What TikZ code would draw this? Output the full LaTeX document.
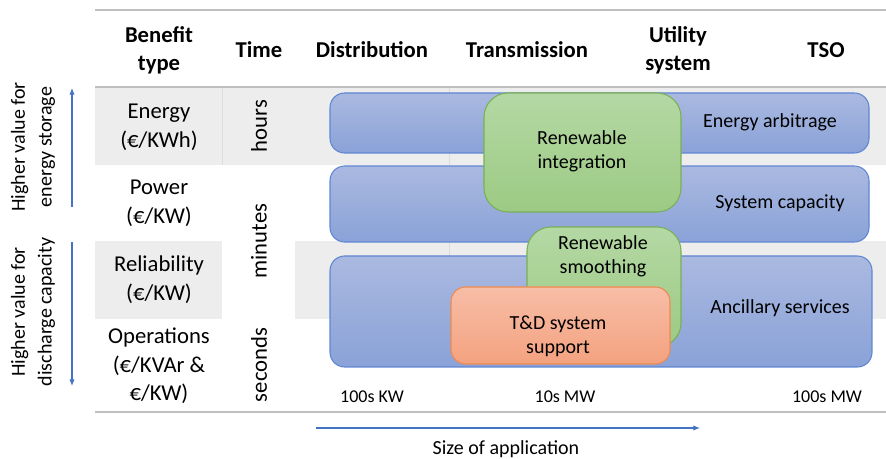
\documentclass[tikz,border=0pt]{standalone}
\usepackage{fontspec}
\setmainfont{Carlito}
\usetikzlibrary{arrows.meta}

\definecolor{bandgray}{HTML}{EDEDED}
\definecolor{rulegray}{HTML}{BFBFBF}
\definecolor{sepgray}{HTML}{DCDCDC}
\definecolor{bluetop}{HTML}{AAB9E0}
\definecolor{bluebot}{HTML}{8AA2D8}
\definecolor{blueedge}{HTML}{5F86D2}
\definecolor{greentop}{HTML}{B4D8A4}
\definecolor{greenbot}{HTML}{9CCA83}
\definecolor{greenedge}{HTML}{78B055}
\definecolor{orangetop}{HTML}{F7BDA7}
\definecolor{orangebot}{HTML}{F4A27F}
\definecolor{orangeedge}{HTML}{EE8A4F}
\definecolor{arrowblue}{HTML}{4472C4}

\begin{document}
\begin{tikzpicture}[
    x = 0.75pt,
    y = -0.75pt,
    >={Latex[length=5pt,width=4pt]},
    rule/.style = {draw=rulegray, line width=1.1pt},
    sep/.style = {draw=sepgray, line width=0.6pt},
    bluebox/.style = {draw=blueedge, line width=0.8pt, rounded corners=11pt,
              top color=bluetop, bottom color=bluebot},
    greenbox/.style = {draw=greenedge, line width=0.8pt, rounded corners=18pt,
              top color=greentop, bottom color=greenbot},
    orangebox/.style = {draw=orangeedge, line width=0.8pt, rounded corners=11pt,
              top color=orangetop, bottom color=orangebot},
    head/.style = {align=center, font=\bfseries\fontsize{17}{21}\selectfont},
    rowlabel/.style = {align=center, font=\fontsize{17}{21.5}\selectfont},
    timelabel/.style = {rotate=90, font=\fontsize{17}{21}\selectfont},
    boxtext/.style = {align=center, font=\fontsize{15}{18}\selectfont},
    sizelabel/.style = {font=\fontsize{13.5}{16}\selectfont},
    sidelabel/.style = {rotate=90, align=center, font=\fontsize{15}{20}\selectfont},
    ]

\useasboundingbox (0,0) rectangle (886,459);

% grey bands and table rules
\fill[bandgray] (95,87) rectangle (886,165);
\fill[bandgray] (95,241) rectangle (222,319);
\fill[bandgray] (295,241) rectangle (886,319);
\draw[sep] (222,87) -- (222,165);
\draw[sep] (449,87) -- (449,165);
\draw[sep] (449,241) -- (449,319);
\draw[rule] (95,10) -- (886,10);
\draw[rule] (95,87) -- (886,87);
\draw[rule] (95,412) -- (886,412);

% column headers
\node[head] (h_benefit) at (159,50) {Benefit\\type};
\node[head] (h_time) at (259,50) {Time};
\node[head] (h_dist) at (372,50) {Distribution};
\node[head] (h_trans) at (527,50) {Transmission};
\node[head] (h_util) at (678,50) {Utility\\system};
\node[head] (h_tso) at (826,50) {TSO};

% benefit types
\node[rowlabel] (r_energy) at (159,127) {Energy\\(€/KWh)};
\node[rowlabel] (r_power) at (159,203) {Power\\(€/KW)};
\node[rowlabel] (r_rel) at (159,280) {Reliability\\(€/KW)};
\node[rowlabel] (r_ops) at (159,366) {Operations\\(€/KVAr \&\\€/KW)};

% time scales
\node[timelabel] (t_hours) at (259,126) {hours};
\node[timelabel] (t_minutes) at (259,241) {minutes};
\node[timelabel] (t_seconds) at (259,365) {seconds};

% applications
\draw[bluebox] (330,93) rectangle (869,153);
\draw[bluebox] (330,166) rectangle (869,242);
\draw[bluebox] (330,256) rectangle (872,367);
\draw[greenbox] (484,93) rectangle (681,212);
\draw[greenbox] (527,227) rectangle (681,347);
\draw[orangebox] (451,287) rectangle (670,364);

\node[boxtext] (arbitrage) at (770,122) {Energy arbitrage};
\node[boxtext] (capacity) at (780,203) {System capacity};
\node[boxtext] (ancillary) at (780,308) {Ancillary services};
\node[boxtext] (integration) at (582,151) {Renewable\\integration};
\node[boxtext] (smoothing) at (603,256) {Renewable\\smoothing};
\node[boxtext] (tdsupport) at (558,336) {T\&D system\\support};

% size scale
\node[sizelabel] (s_kw) at (372,397) {100s KW};
\node[sizelabel] (s_10mw) at (565,397) {10s MW};
\node[sizelabel] (s_100mw) at (827,397) {100s MW};

\coordinate (size_from) at (316,428);
\coordinate (size_to) at (700,428);
\draw[->, arrowblue, line width=0.8pt] (size_from) -- (size_to);
\node[boxtext] (size) at (506,449) {Size of application};

% value axes
\coordinate (store_from) at (72,207);
\coordinate (store_to) at (72,88);
\coordinate (dis_from) at (72,242);
\coordinate (dis_to) at (72,386);
\draw[->, arrowblue, line width=0.8pt] (store_from) -- (store_to);
\draw[->, arrowblue, line width=0.8pt] (dis_from) -- (dis_to);
\node[sidelabel] (storage) at (33,147) {Higher value for\\energy storage};
\node[sidelabel] (discharge) at (33,312) {Higher value for\\discharge capacity};

\end{tikzpicture}
\end{document}
